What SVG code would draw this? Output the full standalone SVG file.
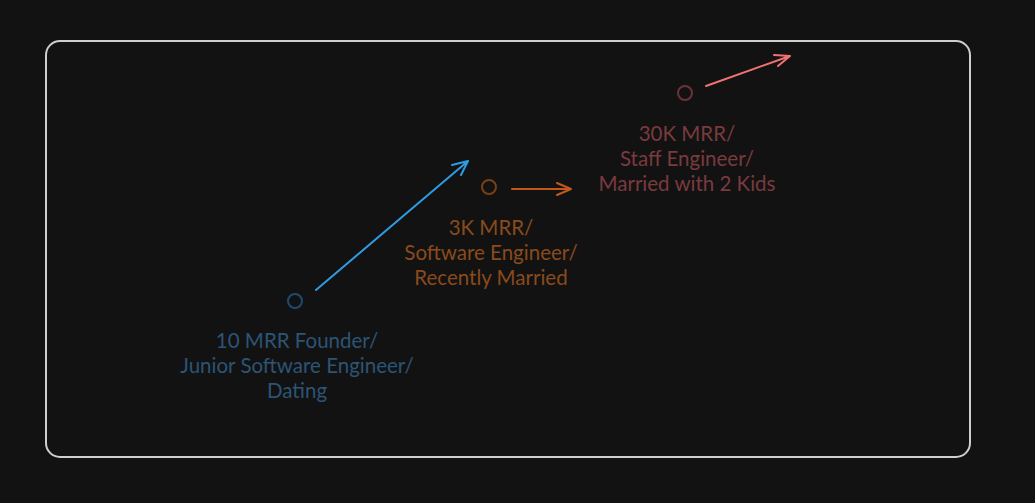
<svg xmlns="http://www.w3.org/2000/svg" width="1035" height="503" viewBox="0 0 1035 503">
<defs>
<style>
.lbl{font-family:"Lato","Noto Sans",sans-serif;font-size:20.5px;text-anchor:middle}
.dot{fill:none;stroke-width:2}
.con{fill:none;stroke-width:2;stroke-linecap:round;stroke-linejoin:round}
</style>
</defs>
<rect x="0" y="0" width="1035" height="503" fill="#121212"/>
<g id="frame"><rect x="46" y="41" width="924" height="416" rx="14" fill="none" stroke="#cfcfcf" stroke-width="2"/></g>
<g id="node-junior">
<circle class="dot" cx="295" cy="301" r="7" stroke="#1f4a6e"/>
<text class="lbl" fill="#2c5475"><tspan x="297" y="348">10 MRR Founder/</tspan><tspan x="297" y="373">Junior Software Engineer/</tspan><tspan x="297" y="398">Dating</tspan></text>
</g>
<g id="node-engineer">
<circle class="dot" cx="489" cy="187" r="7" stroke="#7a3f14"/>
<text class="lbl" fill="#8a4a1c"><tspan x="491" y="235">3K MRR/</tspan><tspan x="491" y="260">Software Engineer/</tspan><tspan x="491" y="285">Recently Married</tspan></text>
</g>
<g id="node-staff">
<circle class="dot" cx="685" cy="93" r="7" stroke="#6b3338"/>
<text class="lbl" fill="#7a3a3e"><tspan x="687" y="141">30K MRR/</tspan><tspan x="687" y="166">Staff Engineer/</tspan><tspan x="687" y="191">Married with 2 Kids</tspan></text>
</g>
<g id="connectors">
<path class="con" stroke="#2f9be2" d="M316 290 L468 161 M468 161 L452 165 M468 161 L461 175"/>
<path class="con" stroke="#c4581a" d="M512 189 L571 189 M571 189 L557 183 M571 189 L557 195"/>
<path class="con" stroke="#f07272" d="M706 86 L790 56 M790 56 L774 55 M790 56 L778 66"/>
</g>
</svg>
